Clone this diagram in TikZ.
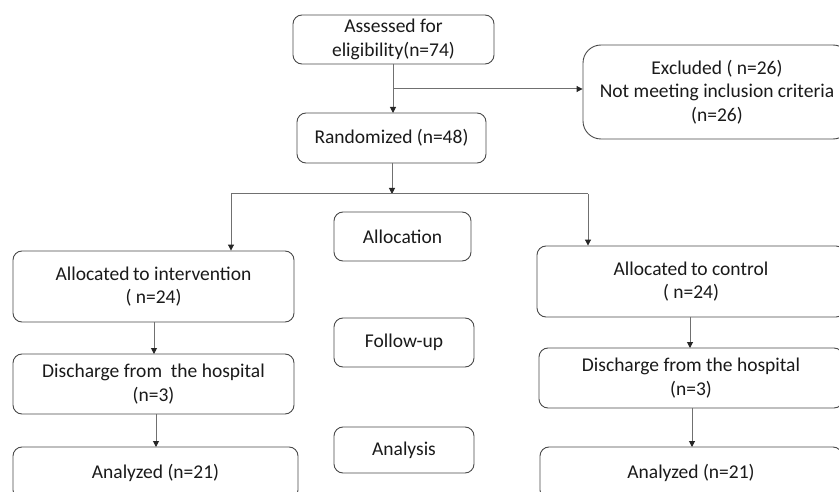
\documentclass[tikz,border=0pt]{standalone}
\usepackage{fontspec}
\setmainfont{Carlito}
\usetikzlibrary{arrows.meta}
\definecolor{boxline}{HTML}{4A4A4A}
\definecolor{conn}{HTML}{707070}
\definecolor{txt}{HTML}{1A1A1A}
\begin{document}
\begin{tikzpicture}[x=1pt,y=-1pt,
  box/.style={draw=boxline, line width=0.9pt, rounded corners=9pt, fill=white,
    align=center, inner sep=0pt, text=txt,
    font=\fontsize{19.5}{23.5}\selectfont},
  conline/.style={draw=conn, line width=1pt},
  arr/.style={conline, -{Triangle[length=6pt,width=6pt,fill=black!85,color=black!85]}}]
\useasboundingbox (0,0) rectangle (839,492);
\clip (0,0) rectangle (839,492);
% boxes
\node[box, minimum width=201pt, minimum height=49pt] (assess) at (393.5,39.5) {Assessed for\\eligibility(n=74)};
\node[box, rounded corners=18pt, minimum width=268pt, minimum height=94pt] (excl) at (717,92) {Excluded ( n=26)\\Not meeting inclusion criteria\\(n=26)};
\node[box, minimum width=189pt, minimum height=50pt] (rand) at (391.5,138) {Randomized (n=48)};
\node[box, minimum width=281pt, minimum height=71pt] (ai) at (153.5,286.5) {Allocated\kern-1pt\ to intervention\\( n=24)};
\node[box, minimum width=137pt, minimum height=49pt] (alloc) at (402.5,236.5) {Allocation};
\node[box, minimum width=308pt, minimum height=71pt] (ac) at (691,281.5) {Allocated\kern-1pt\ to control\\( n=24)};
\node[box, minimum width=140pt, minimum height=49pt] (follow) at (404,342.5) {Follow-up};
\node[box, minimum width=281pt, minimum height=60pt] (dl) at (153.5,384) {Discharge from\ \ the hospital\\(n=3)};
\node[box, minimum width=304pt, minimum height=60pt] (dr) at (691,378) {Discharge from the hospital\\(n=3)};
\node[box, minimum width=140pt, minimum height=46pt] (analysis) at (404,450) {Analysis};
\node[box, minimum width=285pt, minimum height=52pt] (al) at (155.5,473) {Analyzed (n=21)};
\node[box, minimum width=302pt, minimum height=52pt] (ar) at (691,473) {Analyzed (n=21)};
% connectors
\coordinate (b1) at (393,89);
\draw[arr] (393,64) -- (393,113);
\draw[arr] (b1) -- (b1 -| excl.west);
\coordinate (split) at (392,194);
\coordinate (sl) at (231,194);
\coordinate (sr) at (588,194);
\draw[arr] (392,163) -- (split);
\draw[conline] (sl) -- (sr);
\draw[arr] (sl) -- (sl |- ai.north);
\draw[arr] (sr) -- (sr |- ac.north);
\draw[arr] (154,322) -- (154,354);
\draw[arr] (156,414) -- (156,447);
\draw[arr] (690,317) -- (690,348);
\draw[arr] (692,408) -- (692,447);
\end{tikzpicture}
\end{document}
